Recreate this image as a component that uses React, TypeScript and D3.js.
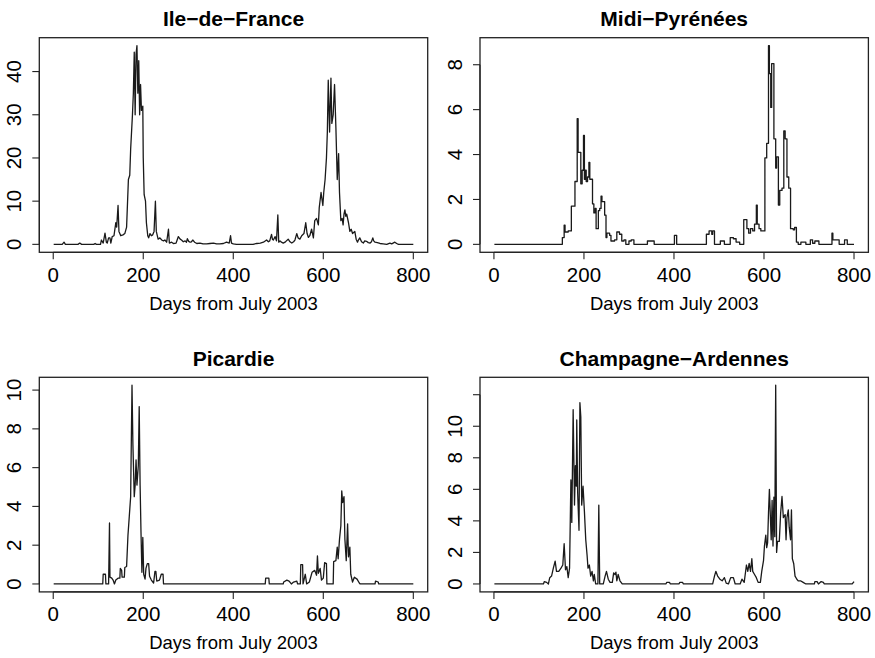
import React from "react";
import * as d3 from "d3";

// breakpoints: [day, value]
const ileDeFrance: [number, number][] = [
  [1, 0], [20, 0], [24, 0.5], [27, 0], [55, 0], [59, 0.3], [63, 0], [90, 0], [93, 0.2], [96, 0],
  [105, 0], [107, 1], [111, 0.3], [115, 2.6], [118, 0.5], [120, 0.3], [123, 1.5], [126, 1.5],
  [128, 0.3], [131, 1.8], [135, 2], [139, 5], [141, 4], [144, 9], [146, 3], [150, 2], [155, 2.2],
  [159, 2.5], [163, 4], [167, 15], [170, 16], [172, 22], [176, 30], [178, 35], [180, 44.5],
  [182, 30], [184, 44], [186, 46], [188, 35], [190, 42.5], [192, 30], [194, 37], [196, 31],
  [199, 32], [200, 20], [202, 11.5], [205, 10], [207, 5], [210, 2], [212, 1.5], [215, 2.5],
  [218, 2], [221, 2.2], [224, 3], [227, 10], [229, 3], [233, 1.2], [237, 1.5], [241, 1],
  [245, 0.8], [248, 1], [252, 0.5], [256, 3.5], [258, 0.3], [263, 0.5], [267, 0.2], [273, 0.3],
  [278, 1.8], [282, 1.2], [285, 1], [289, 0.6], [293, 0.8], [296, 0.5], [298, 1.3], [301, 0.7],
  [304, 0.5], [307, 0.6], [310, 1], [314, 0.5], [319, 0.2], [326, 0.3], [333, 0.1], [341, 0.1],
  [348, 0.2], [356, 0.3], [363, 0.1], [370, 0.1], [378, 0.2], [385, 0.5], [391, 0.3], [394, 2],
  [396, 0.3], [400, 0.1], [407, 0], [444, 0], [452, 0.2], [460, 0.3], [467, 0.5], [474, 1],
  [478, 0.6], [481, 0.8], [485, 2.3], [487, 1.2], [489, 1], [493, 1.8], [496, 0.8], [499, 6.8],
  [501, 0.5], [504, 0.8], [507, 0.5], [511, 0.3], [515, 0.5], [518, 0.8], [522, 1.2], [526, 0.6],
  [530, 0.3], [534, 0.6], [537, 1], [541, 2.5], [544, 1.5], [548, 1.2], [552, 2], [557, 2.5],
  [561, 5], [564, 2.5], [567, 1.6], [570, 2], [574, 3.5], [578, 1.5], [581, 5.5], [585, 6],
  [589, 4.5], [591, 8.5], [595, 12], [599, 9], [601, 12], [604, 15], [607, 20], [609, 26],
  [611, 38], [614, 26], [617, 38.5], [619, 28], [622, 30], [625, 37], [628, 27], [631, 15],
  [634, 21], [636, 12], [639, 5.5], [642, 6], [644, 4.5], [646, 7], [648, 8], [650, 6.5],
  [652, 7], [656, 5], [659, 3], [662, 3.5], [665, 2.5], [670, 3], [673, 1.2], [676, 0.5],
  [678, 1], [681, 1.5], [685, 0.6], [689, 0.3], [692, 0.8], [696, 0.7], [700, 0.4], [704, 0.3],
  [707, 0.6], [710, 1.5], [712, 0.8], [715, 0.5], [720, 0.4], [726, 0.2], [733, 0.1], [741, 0],
  [748, 0.3], [752, 0.1], [759, 0.5], [763, 0.2], [767, 0], [800, 0],
];

const midiPyrenees: [number, number][] = [
  [1, 0], [152, 0.3], [156, 0.85], [158, 0.55], [165, 0.6], [172, 1.7], [180, 2.8], [185, 5.6],
  [187, 4.1], [193, 2.7], [196, 3.3], [199, 4.85], [201, 2.9], [203, 3.3], [205, 2.8], [208, 3.0],
  [211, 3.65], [213, 2.9], [219, 1.8], [222, 1.4], [225, 1.6], [227, 0.7], [232, 1.5], [235, 1.6],
  [238, 2.15], [240, 1.9], [246, 1.3], [249, 0.3], [251, 0.5], [257, 0.4], [260, 0.15], [268, 0.2],
  [273, 0.55], [279, 0.45], [284, 0.15], [289, 0.2], [293, 0], [300, 0.15], [305, 0.2], [311, 0],
  [341, 0.15], [356, 0], [401, 0.4], [406, 0], [472, 0.45], [478, 0.6], [484, 0.45], [486, 0.6],
  [490, 0], [503, 0.15], [512, 0], [525, 0.3], [532, 0.25], [538, 0.1], [546, 0], [555, 1.1],
  [562, 0.7], [566, 0.5], [570, 0.7], [575, 0.6], [579, 0.9], [583, 1.75], [585, 0.9], [589, 0.7],
  [593, 0.6], [602, 3.85], [606, 4.5], [610, 8.85], [612, 7.6], [615, 6.1], [617, 8.05], [622, 4.7],
  [626, 3.4], [628, 3.9], [632, 1.75], [635, 2.4], [640, 2.5], [644, 5.05], [647, 4.7], [651, 3.0],
  [655, 2.5], [659, 0.7], [665, 0.65], [668, 0.75], [672, 0.1], [676, 0], [682, 0.1], [693, 0],
  [703, 0.2], [708, 0.05], [713, 0.15], [722, 0], [751, 0.5], [753, 0.2], [764, 0.2], [767, 0],
  [779, 0.2], [785, 0], [800, 0],
];

const picardie: [number, number][] = [
  [1, 0], [110, 0], [111, 0.5], [116, 0.5], [117, 0], [123, 0], [125, 3.15], [126, 0.35],
  [130, 0.3], [133, 0.2], [136, 0], [139, 0.2], [144, 0.3], [148, 0.3], [149, 0.8], [152, 0.7],
  [153, 0.35], [158, 0.35], [159, 0.85], [163, 0.9], [166, 2.5], [169, 3.5], [172, 4.5],
  [175, 10.25], [177, 7.2], [180, 4.5], [182, 5.1], [184, 6.4], [186, 5.1], [189, 6.1],
  [191, 9.15], [193, 5.1], [195, 2.65], [197, 0.6], [199, 2.4], [201, 0.5], [204, 0.25],
  [206, 0.8], [209, 1.05], [212, 1.05], [214, 0.4], [218, 0.2], [223, 0.05], [226, 0.65],
  [228, 0.65], [230, 0.15], [236, 0.2], [240, 0.5], [244, 0.5], [245, 0], [471, 0], [472, 0.3],
  [479, 0.3], [480, 0], [511, 0], [512, 0.1], [519, 0.2], [524, 0.15], [529, 0], [534, 0.1],
  [541, 0.15], [543, 0], [549, 0], [550, 1.0], [554, 1.0], [555, 0], [560, 0.5], [563, 0],
  [569, 0.1], [575, 0.6], [581, 0.7], [585, 0.45], [587, 1.45], [589, 0.55], [593, 0.8],
  [596, 0.2], [600, 0.3], [603, 1.1], [607, 1.05], [608, 0], [622, 0], [623, 1.15], [628, 1.2],
  [631, 1.9], [633, 1.3], [636, 2.3], [639, 3.0], [641, 4.8], [643, 4.2], [646, 4.5], [648, 2.3],
  [651, 1.2], [654, 3.1], [656, 1.4], [659, 1.9], [661, 0.5], [665, 0.1], [669, 0.35],
  [675, 0.25], [680, 0.05], [682, 0], [715, 0], [716, 0.15], [722, 0.1], [723, 0], [800, 0],
];

const champagneArdennes: [number, number][] = [
  [1, 0], [110, 0], [112, 0.15], [117, 0.1], [121, 0], [124, 0.4], [128, 0.5], [132, 1.0],
  [136, 1.45], [139, 0.8], [144, 0.8], [149, 1.0], [153, 1.2], [156, 2.55], [159, 0.9],
  [162, 1.1], [165, 0.4], [168, 1.0], [171, 6.6], [173, 3.9], [176, 11.05], [179, 5.0],
  [181, 7.5], [183, 6.2], [184, 10.4], [186, 5.8], [189, 3.4], [191, 11.5], [193, 10.6],
  [195, 5.0], [198, 6.2], [201, 4.6], [204, 2.8], [207, 1.8], [209, 1.0], [212, 1.2], [215, 0.5],
  [218, 0.8], [221, 0.2], [223, 0.6], [226, 0], [231, 0], [233, 5.0], [235, 0], [243, 0],
  [247, 0.5], [250, 0.8], [254, 0.3], [258, 0.1], [263, 0.1], [266, 0.7], [269, 0.6], [271, 0.75],
  [273, 0.2], [276, 0.6], [280, 0.2], [285, 0], [382, 0], [384, 0.1], [390, 0.1], [392, 0],
  [411, 0], [413, 0.1], [419, 0.1], [421, 0], [486, 0], [490, 0.5], [493, 0.8], [497, 0.5],
  [502, 0.3], [507, 0.2], [512, 0.4], [516, 0.05], [521, 0], [526, 0.4], [532, 0.4], [536, 0],
  [547, 0], [551, 0.3], [556, 0.1], [561, 1.2], [564, 0.8], [567, 1.3], [570, 0.8], [573, 1.6],
  [575, 0.8], [579, 0.6], [583, 0.4], [587, 0.1], [592, 0.1], [595, 0.8], [599, 1.5], [601, 2.4],
  [604, 3.1], [606, 2.3], [608, 2.6], [610, 4.5], [612, 6.0], [616, 2.8], [618, 5.3], [620, 2.4],
  [622, 5.5], [624, 3.0], [626, 12.6], [628, 2.0], [630, 2.7], [634, 2.7], [637, 4.5], [640, 5.55],
  [643, 4.2], [647, 4.4], [649, 2.8], [651, 4.2], [654, 4.7], [656, 3.6], [659, 2.8], [661, 4.7],
  [663, 1.6], [666, 1.3], [669, 0.5], [673, 0.3], [676, 0.2], [681, 0.2], [687, 0.1], [693, 0],
  [712, 0], [713, 0.15], [718, 0.15], [721, 0], [727, 0.15], [732, 0.1], [734, 0], [796, 0],
  [800, 0.15],
];

const xTicks = [0, 200, 400, 600, 800];
const ileTicks = [0, 10, 20, 30, 40];
const midiTicks = [0, 2, 4, 6, 8];
const picardieTicks = [0, 2, 4, 6, 8, 10];
const champagneTicks = [0, 2, 4, 6, 8, 10, 12];
const champagneLabels = ["0", "2", "4", "6", "8", "10", ""];

const titles = ["Ile\u2212de\u2212France", "Midi\u2212Pyrénées", "Picardie", "Champagne\u2212Ardennes"];
const xLabel = "Days from July 2003";

const font = "'Liberation Sans', Arial, Helvetica, sans-serif";
const boxW = 388.4;
const boxH = 214.6;

const panels = [
  { title: titles[0], data: ileDeFrance, ticks: ileTicks, labels: ileTicks.map(String), curve: d3.curveLinear, left: 39.3, top: 37.7 },
  { title: titles[1], data: midiPyrenees, ticks: midiTicks, labels: midiTicks.map(String), curve: d3.curveStepAfter, left: 480, top: 37.7 },
  { title: titles[2], data: picardie, ticks: picardieTicks, labels: picardieTicks.map(String), curve: d3.curveLinear, left: 39.3, top: 377.3 },
  { title: titles[3], data: champagneArdennes, ticks: champagneTicks, labels: champagneLabels, curve: d3.curveLinear, left: 480, top: 377.3 },
];

const Panel = ({ p }: { p: (typeof panels)[number] }) => {
  const x = d3.scaleLinear().domain([1 - 799 * 0.04, 800 + 799 * 0.04]).range([p.left, p.left + boxW]);
  const ymax = d3.max(p.data, (d) => d[1]) as number;
  const y = d3.scaleLinear().domain([-0.04 * ymax, 1.04 * ymax]).range([p.top + boxH, p.top]);
  const line = d3
    .line<[number, number]>()
    .x((d) => x(d[0]))
    .y((d) => y(d[1]))
    .curve(p.curve);
  const bottom = p.top + boxH;
  const cx = p.left + boxW / 2;
  const tick = 7;

  return (
    <g fontFamily={font} fill="#000">
      <text x={cx} y={p.top - 11.7} textAnchor="middle" fontWeight="bold" fontSize={21}>
        {p.title}
      </text>
      <path d={line(p.data) ?? ""} fill="none" stroke="#1a1a1a" strokeWidth={1.3} strokeLinejoin="round" />
      <rect x={p.left} y={p.top} width={boxW} height={boxH} fill="none" stroke="#222" strokeWidth={1.3} />
      {/* x axis */}
      <line x1={x(xTicks[0])} x2={x(xTicks[xTicks.length - 1])} y1={bottom} y2={bottom} stroke="#222" strokeWidth={1.1} />
      {xTicks.map((t) => (
        <g key={t}>
          <line x1={x(t)} x2={x(t)} y1={bottom} y2={bottom + tick} stroke="#222" strokeWidth={1.1} />
          <text x={x(t)} y={bottom + 29.4} textAnchor="middle" fontSize={20.5}>
            {t}
          </text>
        </g>
      ))}
      <text x={cx} y={bottom + 57.5} textAnchor="middle" fontSize={18.5}>
        {xLabel}
      </text>
      {/* y axis */}
      <line x1={p.left} x2={p.left} y1={y(p.ticks[0])} y2={y(p.ticks[p.ticks.length - 1])} stroke="#222" strokeWidth={1.1} />
      {p.ticks.map((t, i) => (
        <g key={t}>
          <line x1={p.left - tick} x2={p.left} y1={y(t)} y2={y(t)} stroke="#222" strokeWidth={1.1} />
          <text
            transform={`translate(${p.left - 18},${y(t)}) rotate(-90)`}
            textAnchor="middle"
            fontSize={20.5}
          >
            {p.labels[i]}
          </text>
        </g>
      ))}
    </g>
  );
};

const App = () => {
  return (
    <svg
      width={875}
      height={658}
      style={{ position: "absolute", left: 0, top: 0, background: "#fff" }}
    >
      <rect width={875} height={658} fill="#fff" />
      {panels.map((p) => (
        <Panel key={p.title} p={p} />
      ))}
    </svg>
  );
};

export default App;
